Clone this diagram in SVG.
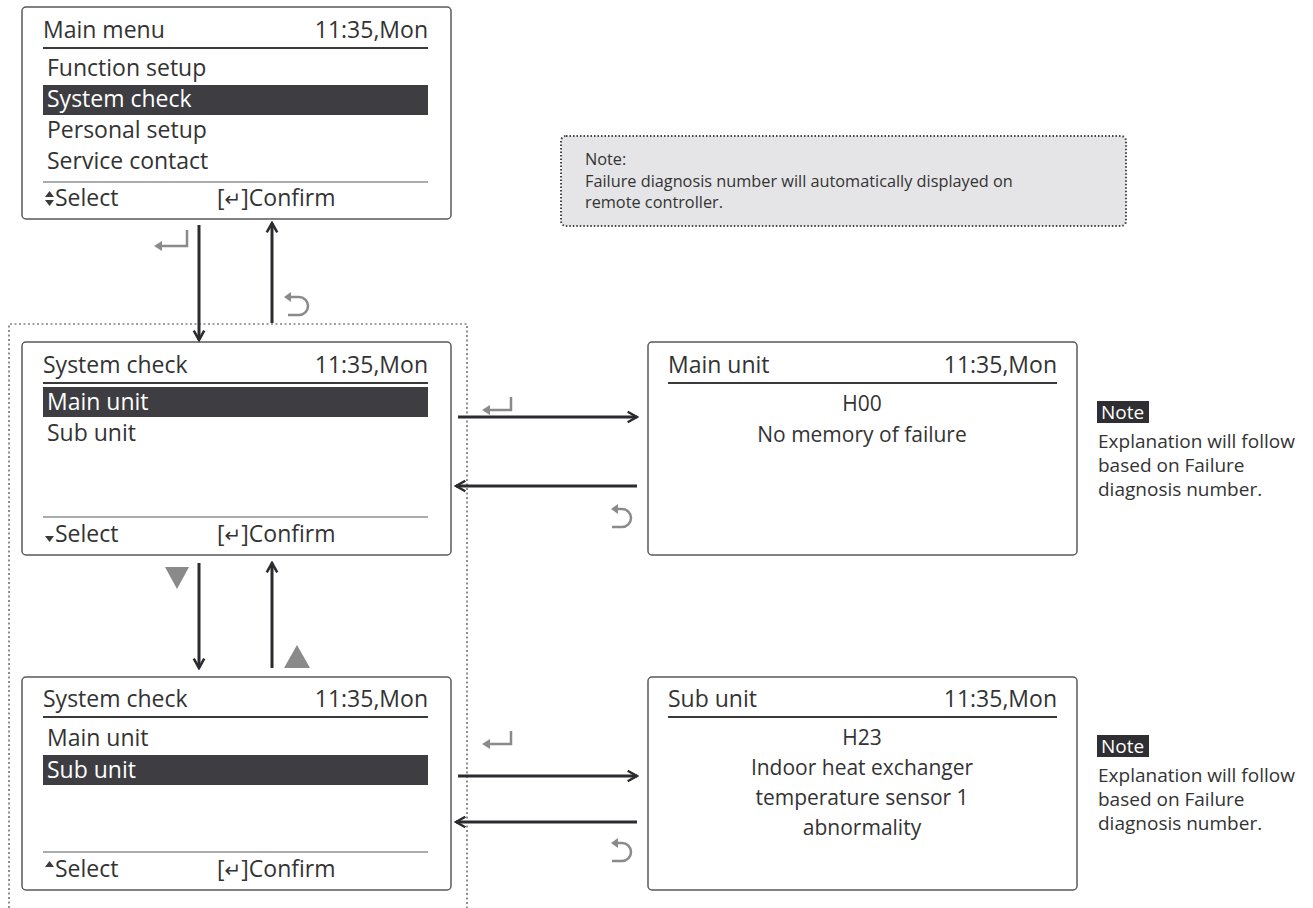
<svg xmlns="http://www.w3.org/2000/svg" width="1313" height="908" viewBox="0 0 1313 908">
<style>
.scr{fill:#fff;stroke:#5a5a5a;stroke-width:1.5}
.t{font-family:"Open Sans","Noto Sans",sans-serif;font-size:23px;fill:#333}
.tw{font-family:"Open Sans","Noto Sans",sans-serif;font-size:23px;fill:#fff}
.c{font-family:"Open Sans","Noto Sans",sans-serif;font-size:21px;fill:#333}
.hl{fill:#3d3d42}
.hline{stroke:#3a3a3a;stroke-width:2.2}
.sep{stroke:#5a5a5a;stroke-width:1.2}
.conn{stroke:#2b2b30;stroke-width:3;fill:none;marker-end:url(#ah)}
.ico{stroke:#8a8a8a;stroke-width:2.5;fill:none}
.icof{fill:#8a8a8a}
.sel{fill:#3a3a3a}
.note{font-family:"Open Sans","Noto Sans",sans-serif;font-size:19px;fill:#333}
.notew{font-family:"Open Sans","Noto Sans",sans-serif;font-size:19px;fill:#fff}
.small{font-family:"Open Sans","Noto Sans",sans-serif;font-size:16.3px;fill:#333}
.sym{font-family:"DejaVu Sans",sans-serif;font-size:20px}
</style>
<defs>
<marker id="ah" viewBox="0 0 12 12" refX="10" refY="6" markerWidth="14" markerHeight="14" markerUnits="userSpaceOnUse" orient="auto">
<path d="M2,1.5 L10,6 L2,10.5" fill="none" stroke="#2b2b30" stroke-width="2.2"/>
</marker>
</defs>
<rect x="0" y="0" width="1313" height="908" fill="#fff"/>

<g id="main-menu">
<rect class="scr" x="22" y="7" width="429" height="212" rx="4"/>
<text class="t" x="43" y="38">Main menu</text>
<text class="t" x="428" y="38" text-anchor="end">11:35,Mon</text>
<line class="hline" x1="43" y1="48" x2="428" y2="48"/>
<text class="t" x="47" y="76">Function setup</text>
<rect class="hl" x="43" y="85" width="385" height="30"/>
<text class="tw" x="47" y="107">System check</text>
<text class="t" x="47" y="138">Personal setup</text>
<text class="t" x="47" y="169">Service contact</text>
<line class="sep" x1="43" y1="182" x2="428" y2="182"/>
<polygon class="sel" points="45,197 54,197 49.5,191"/>
<polygon class="sel" points="45,200 54,200 49.5,206"/>
<text class="t" x="55" y="206">Select</text>
<text class="t" x="217" y="206">[<tspan class="sym">↵</tspan>]Confirm</text>
</g>

<g id="note-top">
<rect x="561" y="136" width="565" height="90" rx="5" fill="#e5e5e7" stroke="#444" stroke-width="2" stroke-dasharray="1.5,2"/>
<text class="small" x="585" y="165">Note:</text>
<text class="small" x="585" y="187">Failure diagnosis number will automatically displayed on</text>
<text class="small" x="585" y="208">remote controller.</text>
</g>

<g id="container">
<path d="M9,908 V324 H467 V908" fill="none" stroke="#444" stroke-width="1.2" stroke-dasharray="2,2.5"/>
</g>

<g id="system-check-main">
<rect class="scr" x="22" y="342" width="429" height="213" rx="4"/>
<text class="t" x="43" y="373">System check</text>
<text class="t" x="428" y="373" text-anchor="end">11:35,Mon</text>
<line class="hline" x1="43" y1="383" x2="428" y2="383"/>
<rect class="hl" x="43" y="387" width="385" height="30"/>
<text class="tw" x="47" y="410">Main unit</text>
<text class="t" x="47" y="441">Sub unit</text>
<line class="sep" x1="43" y1="517" x2="428" y2="517"/>
<polygon class="sel" points="45,536 54,536 49.5,542"/>
<text class="t" x="55" y="542">Select</text>
<text class="t" x="217" y="542">[<tspan class="sym">↵</tspan>]Confirm</text>
</g>

<g id="system-check-sub">
<rect class="scr" x="22" y="677" width="429" height="213" rx="4"/>
<text class="t" x="43" y="707">System check</text>
<text class="t" x="428" y="707" text-anchor="end">11:35,Mon</text>
<line class="hline" x1="43" y1="717" x2="428" y2="717"/>
<text class="t" x="47" y="746">Main unit</text>
<rect class="hl" x="43" y="755" width="385" height="30"/>
<text class="tw" x="47" y="778">Sub unit</text>
<line class="sep" x1="43" y1="852" x2="428" y2="852"/>
<polygon class="sel" points="45,867 54,867 49.5,861"/>
<text class="t" x="55" y="877">Select</text>
<text class="t" x="217" y="877">[<tspan class="sym">↵</tspan>]Confirm</text>
</g>

<g id="main-unit">
<rect class="scr" x="648" y="342" width="429" height="213" rx="4"/>
<text class="t" x="668" y="373">Main unit</text>
<text class="t" x="1057" y="373" text-anchor="end">11:35,Mon</text>
<line class="hline" x1="668" y1="383" x2="1057" y2="383"/>
<text class="c" x="862" y="411" text-anchor="middle">H00</text>
<text class="c" x="862" y="442" text-anchor="middle">No memory of failure</text>
</g>

<g id="note-main">
<rect x="1097" y="401" width="52" height="22" fill="#2e2e33"/>
<text class="notew" x="1101" y="419">Note</text>
<text class="note" x="1098" y="448">Explanation will follow</text>
<text class="note" x="1098" y="472">based on Failure</text>
<text class="note" x="1098" y="496">diagnosis number.</text>
</g>

<g id="sub-unit">
<rect class="scr" x="648" y="677" width="429" height="213" rx="4"/>
<text class="t" x="668" y="707">Sub unit</text>
<text class="t" x="1057" y="707" text-anchor="end">11:35,Mon</text>
<line class="hline" x1="668" y1="717" x2="1057" y2="717"/>
<text class="c" x="862" y="745" text-anchor="middle">H23</text>
<text class="c" x="862" y="775" text-anchor="middle">Indoor heat exchanger</text>
<text class="c" x="862" y="805" text-anchor="middle">temperature sensor 1</text>
<text class="c" x="862" y="835" text-anchor="middle">abnormality</text>
</g>

<g id="note-sub">
<rect x="1097" y="735" width="52" height="22" fill="#2e2e33"/>
<text class="notew" x="1101" y="753">Note</text>
<text class="note" x="1098" y="782">Explanation will follow</text>
<text class="note" x="1098" y="806">based on Failure</text>
<text class="note" x="1098" y="830">diagnosis number.</text>
</g>

<g id="connectors">
<line class="conn" x1="199" y1="225" x2="199" y2="340"/>
<line class="conn" x1="272" y1="323" x2="272" y2="223"/>
<line class="conn" x1="199" y1="563" x2="199" y2="668"/>
<line class="conn" x1="272" y1="668" x2="272" y2="563"/>
<line class="conn" x1="458" y1="417" x2="637" y2="417"/>
<line class="conn" x1="637" y1="486" x2="456" y2="486"/>
<line class="conn" x1="458" y1="776" x2="637" y2="776"/>
<line class="conn" x1="637" y1="822" x2="456" y2="822"/>
</g>

<g id="icons">
<path class="ico" d="M187,230 V246 H158"/>
<polygon class="icof" points="154,246 162,241 162,251"/>
<path class="ico" d="M290,297 H299 A9,9 0 0 1 299,315 H288"/>
<polygon class="icof" points="284,297 291,292 291,302"/>
<path class="ico" d="M511,397 V410 H486"/>
<polygon class="icof" points="482,410 490,405 490,415"/>
<path class="ico" d="M617,509 H622 A9,9 0 0 1 622,527 H612"/>
<polygon class="icof" points="611,509 618,504 618,514"/>
<path class="ico" d="M511,731 V744 H486"/>
<polygon class="icof" points="482,744 490,739 490,749"/>
<path class="ico" d="M617,843 H622 A9,9 0 0 1 622,861 H612"/>
<polygon class="icof" points="611,843 618,838 618,848"/>
<polygon class="icof" points="165,567 189,567 177,589"/>
<polygon class="icof" points="284,668 310,668 297,645"/>
</g>
</svg>
